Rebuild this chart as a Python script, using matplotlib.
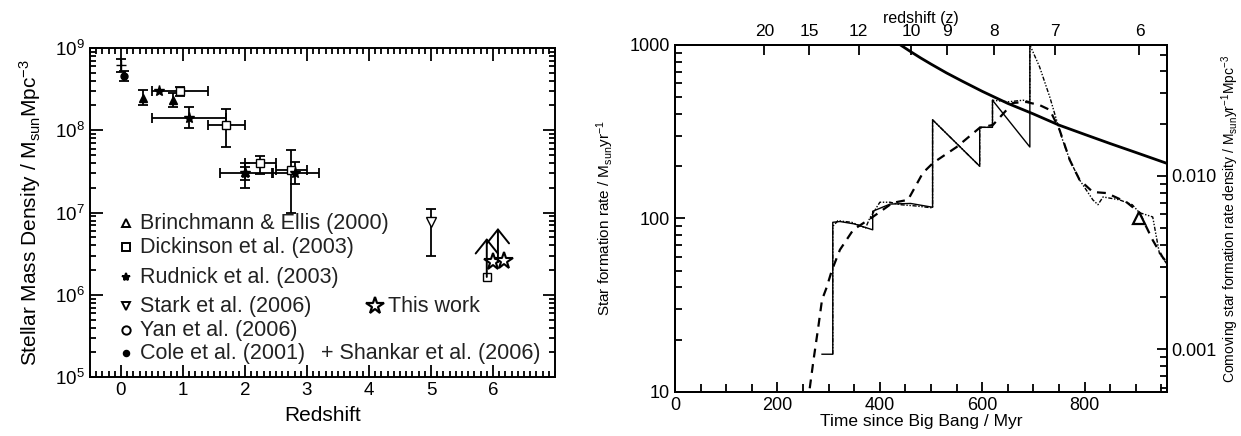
import numpy as np
import matplotlib.pyplot as plt
from matplotlib.ticker import MultipleLocator, LogLocator, NullFormatter

plt.rcParams['font.family'] = ['Liberation Sans', 'DejaVu Sans']
plt.rcParams['mathtext.fontset'] = 'custom'
plt.rcParams['mathtext.rm'] = 'Liberation Sans'
plt.rcParams['mathtext.it'] = 'Liberation Sans:italic'
plt.rcParams['mathtext.default'] = 'regular'
plt.rcParams['axes.linewidth'] = 1.4

# ---- stellar mass density vs redshift ----
# Shankar et al. (2006)
z_sha = [0.0]
m_sha = [6.2e8]
m_sha_lo = [5.1e8]
m_sha_hi = [7.4e8]

# Cole et al. (2001)
z_col = [0.05]
m_col = [4.6e8]
m_col_lo = [4.0e8]
m_col_hi = [5.3e8]

# Brinchmann & Ellis (2000)
z_bri = [0.35, 0.84, 2.0]
m_bri = [2.5e8, 2.3e8, 3.1e7]
m_bri_lo = [2.0e8, 1.9e8, 2.0e7]
m_bri_hi = [3.1e8, 2.8e8, 4.0e7]

# Dickinson et al. (2003)
z_dic = [0.95, 1.7, 2.25, 2.75, 5.9]
z_dic_lo = [0.5, 1.4, 2.0, 2.5, np.nan]
z_dic_hi = [1.4, 2.0, 2.5, 3.0, np.nan]
m_dic = [3.0e8, 1.15e8, 4.0e7, 3.3e7, 1.65e6]
m_dic_lo = [2.6e8, 6.3e7, 2.9e7, 9.8e6, np.nan]
m_dic_hi = [3.4e8, 1.8e8, 4.8e7, 5.7e7, np.nan]

# Rudnick et al. (2003)
z_rud = [0.61, 1.1, 2.0, 2.8]
z_rud_lo = [np.nan, 0.5, 1.6, 2.43]
z_rud_hi = [np.nan, 1.7, 2.45, 3.2]
m_rud = [3.0e8, 1.4e8, 3.0e7, 3.0e7]
m_rud_lo = [np.nan, 1.07e8, 2.5e7, 2.2e7]
m_rud_hi = [np.nan, 1.9e8, 3.6e7, 4.1e7]

# Stark et al. (2006)
z_sta = [5.0]
m_sta = [7.6e6]
m_sta_lo = [3.0e6]
m_sta_hi = [1.1e7]

# This work (lower limits)
z_this = [6.0, 6.17]
m_this = [2.5e6, 2.6e6]
z_lim = [5.9, 6.08]
m_lim_base = [1.65e6, 2.5e6]
m_lim_top = [4.9e6, 6.5e6]

# ---- star formation history ----
# solid thick curve
t_curve = [440, 460, 480, 500, 530, 560, 600, 650, 700, 750, 800, 850, 900, 960]
sfr_curve = [1000, 915, 840, 775, 690, 620, 540, 460, 400, 345, 305, 270, 240, 208]

# dashed (smoothed) history
t_dash = [263, 270, 280, 287, 296, 306, 322, 348, 386, 400, 425, 455, 484, 504,
          550, 595, 621, 660, 686, 712, 732, 751, 771, 790, 816, 843, 882, 907,
          933, 952, 960]
sfr_dash = [10.5, 15, 24, 34, 40, 50, 66, 86, 102, 109, 123, 128, 183, 209,
            258, 333, 346, 463, 469, 450, 422, 324, 217, 167, 142, 140, 124, 108,
            75, 60, 56]

# thin solid sawtooth history
t_saw = [287, 308, 308, 322, 350, 386, 386, 420, 460, 503, 503, 595, 595, 620,
         620, 693, 693]
sfr_saw = [16.5, 16.5, 95, 96, 93, 86, 110, 121, 122, 116, 370, 200, 335, 335,
           480, 258, 1000]

# dash-dot history
t_dd = [308, 308, 318, 345, 372, 380, 400, 420, 440, 470, 503, 503, 595, 595,
        620, 620, 650, 680, 693, 693, 712, 732, 745, 757, 771, 790, 816, 826,
        836, 868, 893, 907, 933, 946, 960]
sfr_dd = [16.5, 90, 97, 95, 88, 100, 124, 124, 120, 118, 115, 370, 200, 335,
          335, 480, 470, 480, 470, 1000, 747, 500, 370, 283, 217, 167, 128, 120,
          133, 128, 120, 108, 102, 63, 55]

# single measurement (triangle)
t_tri = [907]
sfr_tri = [100]

z_top = [20, 15, 12, 10, 9, 8, 7, 6]


def yerr(v, lo, hi):
    v, lo, hi = np.array(v), np.array(lo), np.array(hi)
    return [v - lo, hi - v]


fig = plt.figure(figsize=(12.41, 4.36), dpi=100)

# ================= left panel =================
ax1 = fig.add_axes([0.0725, 0.135, 0.3747, 0.755])
ax1.set_yscale('log')
ax1.set_xlim(-0.5, 7)
ax1.set_ylim(1e5, 1e9)

eb = dict(color='k', capsize=3.5, elinewidth=1.3, capthick=1.3, ls='none')
ax1.errorbar(z_sha, m_sha, yerr=yerr(m_sha, m_sha_lo, m_sha_hi), fmt='+', ms=7, **eb)
ax1.errorbar(z_col, m_col, yerr=yerr(m_col, m_col_lo, m_col_hi), fmt='o', ms=5, **eb)
ax1.errorbar(z_bri, m_bri, yerr=yerr(m_bri, m_bri_lo, m_bri_hi), fmt='^', ms=6, **eb)
ax1.errorbar(z_dic, m_dic, xerr=yerr(z_dic, z_dic_lo, z_dic_hi),
             yerr=yerr(m_dic, m_dic_lo, m_dic_hi), fmt='s', ms=6, mfc='white', **eb)
ax1.errorbar(z_rud, m_rud, xerr=yerr(z_rud, z_rud_lo, z_rud_hi),
             yerr=yerr(m_rud, m_rud_lo, m_rud_hi), fmt='*', ms=8, **eb)
ax1.errorbar(z_sta, m_sta, yerr=yerr(m_sta, m_sta_lo, m_sta_hi), fmt='v', ms=7, mfc='white', **eb)
# lower limits drawn as upward arrows
for zl, lo, hi in zip(z_lim, m_lim_base, m_lim_top):
    ax1.annotate('', xy=(zl, hi), xytext=(zl, lo),
                 arrowprops=dict(arrowstyle='->,head_length=0.5,head_width=0.4',
                                 lw=1.4, color='k', mutation_scale=20,
                                 shrinkA=0, shrinkB=0))
ax1.plot(z_this, m_this, '*', ms=13, mfc='white', mec='k', mew=1.5, ls='none')

ax1.xaxis.set_major_locator(MultipleLocator(1))
ax1.xaxis.set_minor_locator(MultipleLocator(0.1))
ax1.yaxis.set_minor_locator(LogLocator(subs=np.arange(2, 10)))
ax1.yaxis.set_minor_formatter(NullFormatter())
ax1.tick_params(which='both', direction='in', top=True, right=True, width=1.3)
ax1.tick_params(which='major', length=9, labelsize=13.5)
ax1.tick_params(which='minor', length=4.5)
ax1.set_xticks(range(0, 7))
ax1.set_xlabel('Redshift', fontsize=15, labelpad=5)
ax1.set_ylabel('Stellar Mass Density / M$_{sun}$Mpc$^{-3}$', fontsize=15, labelpad=9)

# legend written in axes coordinates
leg_rows = [(0.468, '^', 'Brinchmann & Ellis (2000)'),
            (0.395, 's', 'Dickinson et al. (2003)'),
            (0.304, '*', 'Rudnick et al. (2003)'),
            (0.216, 'v', 'Stark et al. (2006)'),
            (0.143, 'o', 'Yan et al. (2006)'),
            (0.073, '.', 'Cole et al. (2001)')]
for yy, mk, txt in leg_rows:
    filled = mk in ('*', '.')
    ax1.plot(0.077, yy, mk, transform=ax1.transAxes, color='k',
             mfc='k' if filled else 'white', ms=6 if mk != '.' else 8, mew=1.4)
    ax1.text(0.107, yy, txt, transform=ax1.transAxes, fontsize=15.5,
             va='center', ha='left', color='#222222')
ax1.plot(0.613, 0.216, '*', transform=ax1.transAxes, ms=13, mfc='white', mec='k', mew=1.6)
ax1.text(0.640, 0.216, 'This work', transform=ax1.transAxes, fontsize=15.5,
         va='center', ha='left', color='#222222')
ax1.text(0.497, 0.073, '+ Shankar et al. (2006)', transform=ax1.transAxes,
         fontsize=15.5, va='center', ha='left', color='#222222')

# ================= right panel =================
ax2 = fig.add_axes([0.544, 0.101, 0.396, 0.796])
ax2.set_yscale('log')
ax2.set_xlim(0, 960)
ax2.set_ylim(10, 1000)

ax2.plot(t_curve, sfr_curve, color='k', lw=2.0)
ax2.plot(t_dash, sfr_dash, color='k', lw=1.6, ls=(0, (4, 3)))
ax2.plot(t_saw, sfr_saw, color='k', lw=1.0)
ax2.plot(t_dd, sfr_dd, color='k', lw=1.0, ls=(0, (3, 1.2, 1, 1.2, 1, 1.2)))
ax2.plot(t_tri, sfr_tri, '^', ms=9, mfc='white', mec='k', mew=1.6)

ax2.set_yticks([10, 100, 1000], labels=['10', '100', '1000'])
ax2.yaxis.set_minor_locator(LogLocator(subs=np.arange(2, 10)))
ax2.yaxis.set_minor_formatter(NullFormatter())
ax2.xaxis.set_major_locator(MultipleLocator(200))
ax2.xaxis.set_minor_locator(MultipleLocator(50))
ax2.tick_params(which='both', direction='in', top=False, right=False,
                width=1.3, labelsize=13)
ax2.tick_params(which='major', length=7)
ax2.tick_params(which='minor', axis='x', length=6)
ax2.tick_params(which='minor', axis='y', length=5)
ax2.set_xlabel('Time since Big Bang / Myr', fontsize=12.5, labelpad=0)
ax2.set_ylabel('Star formation rate / M$_{sun}$yr$^{-1}$', fontsize=11, labelpad=10)

# redshift scale along the top
ax_top = ax2.twiny()
ax_top.set_xlim(ax2.get_xlim())
t_top = 16800.0 * (1.0 + np.array(z_top)) ** -1.5
ax_top.set_xticks(t_top, labels=[str(z) for z in z_top])
ax_top.tick_params(direction='in', length=7, width=1.3, labelsize=12.5, pad=4)
ax_top.set_xlabel('redshift (z)', fontsize=11.5, labelpad=1)

# comoving density scale on the right
k = 0.010 / 176.0
sec = ax2.secondary_yaxis('right', functions=(lambda s: s * k, lambda d: d / k))
sec.set_yticks([0.001, 0.010], labels=['0.001', '0.010'])
sec.yaxis.set_minor_locator(LogLocator(subs=np.arange(2, 10)))
sec.yaxis.set_minor_formatter(NullFormatter())
sec.tick_params(which='both', direction='in', width=1.3, labelsize=13)
sec.tick_params(which='major', length=7)
sec.tick_params(which='minor', length=5)
sec.set_ylabel('Comoving star formation rate density / M$_{sun}$yr$^{-1}$Mpc$^{-3}$',
               fontsize=10, labelpad=2)

fig.savefig('out.png', dpi=100)
